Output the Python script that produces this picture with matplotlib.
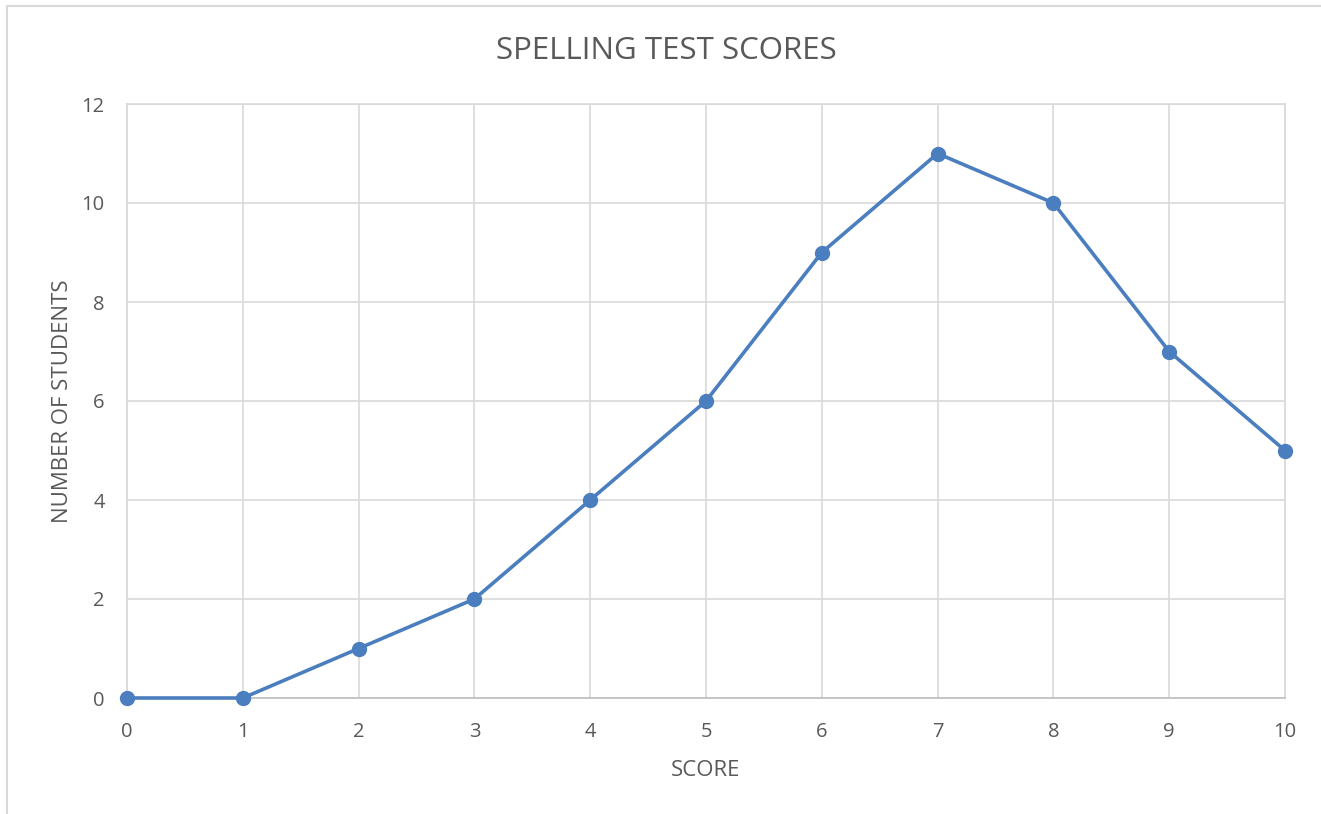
import matplotlib
matplotlib.use("Agg")
import matplotlib.pyplot as plt
from matplotlib.patches import Rectangle

scores = [0, 1, 2, 3, 4, 5, 6, 7, 8, 9, 10]
students = [0, 0, 1, 2, 4, 6, 9, 11, 10, 7, 5]
y_ticks = [0, 2, 4, 6, 8, 10, 12]

W, H = 1321, 814
fig = plt.figure(figsize=(W / 100, H / 100), dpi=100)
plt.rcParams['font.family'] = ['Open Sans', 'DejaVu Sans']
ax = fig.add_axes([127 / W, 1 - 698 / H, (1285 - 127) / W, (698 - 104) / H])

txt = '#595959'
grid = '#D9D9D9'

ax.plot(scores, students, color='#4A7EBF', lw=2.6, marker='o', markersize=10,
        markerfacecolor='#4A7EBF', markeredgecolor='#4A7EBF', zorder=3, clip_on=False)

ax.set_xlim(0, 10)
ax.set_ylim(0, 12)
ax.set_xticks(scores)
ax.set_yticks(y_ticks)
ax.grid(True, color=grid, lw=1.2)
ax.set_axisbelow(True)
for s in ['top', 'right', 'left']:
    ax.spines[s].set_color(grid)
    ax.spines[s].set_linewidth(1.2)
ax.spines['bottom'].set_color('#BFBFBF')
ax.spines['bottom'].set_linewidth(1.2)
ax.tick_params(length=0, labelsize=14.5, colors=txt)
ax.tick_params(axis='x', pad=17)
ax.tick_params(axis='y', pad=16)

fig.text(666 / W, 1 - 51 / H, 'SPELLING TEST SCORES', fontsize=22.5, color=txt,
         ha='center', va='center')
ax.set_xlabel('SCORE', fontsize=16, color=txt, labelpad=13)
ax.set_ylabel('NUMBER OF STUDENTS', fontsize=16, color=txt, labelpad=6)

fig.patches.append(Rectangle((7 / W, -0.1), 1.2, 1 - 6 / H + 0.1, transform=fig.transFigure,
                             fill=False, edgecolor='#D9D9D9', lw=1.5))

fig.savefig('out.png', dpi=100)
